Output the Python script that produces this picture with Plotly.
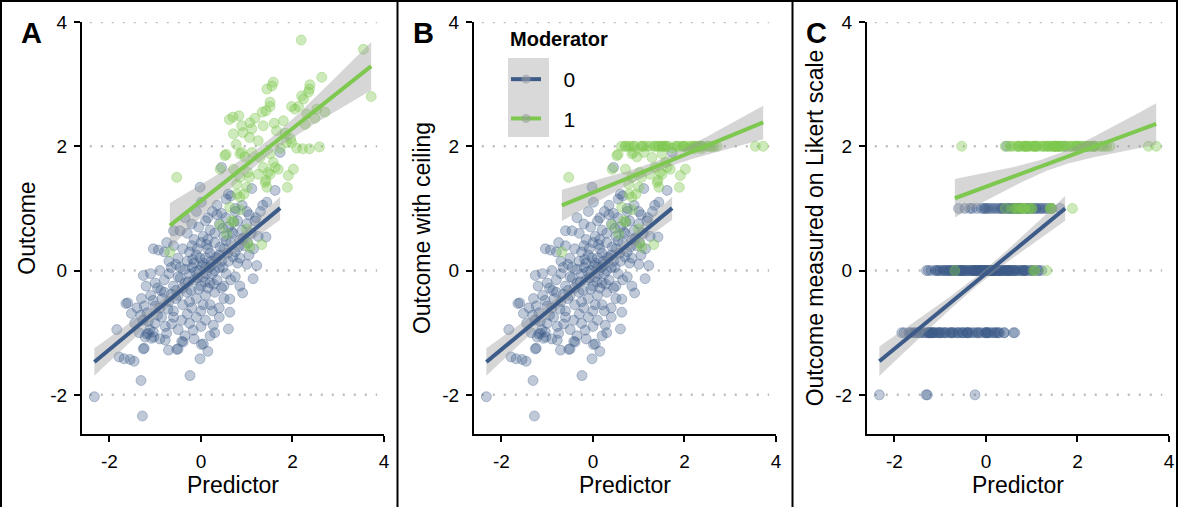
import numpy as np
import plotly.graph_objects as go

# ---------------- data ----------------
blue_predictor = [
    -2.33, -1.28, -1.31, -0.24, -1.79, -1.68, -1.55, -1.46, -1.84, -1.64,
    -1.60, -1.52, -1.24, -1.22, -1.15, -1.08, -1.24, -1.04, -0.71, -0.53,
    -0.75, -1.00, -1.15, 0.01, -0.02, 0.15, -0.42, -0.35, -0.17, -0.64,
    -0.86, -1.26, -1.19, -1.03, -1.26, -1.04, -0.93, -0.75, -0.60, -0.46,
    -0.02, 0.01, 0.45, 1.62, 1.44, 1.42, 1.73, 1.22, 1.14, 0.91,
    0.63, 0.63, 0.60, 0.27, 0.20, 0.05, -0.50, -0.39, 0.60, 1.11,
    0.35, 0.55, 0.75, 0.25, 0.90, 1.00, 0.65, -0.10, 0.15, 0.45,
    -0.30, -0.20, -0.05, 0.05, 0.10, 0.20, 0.30, 0.40, 0.50, 0.60,
    0.70, 0.80, 0.90, 1.00, 1.10, 1.20, 1.30, 0.55, -0.15, 0.35,
    0.85, 1.05, 0.15, -0.35, 0.75, -0.80, -0.60, -0.50, -0.40, -0.30,
    -0.20, -0.10, 0.00, 0.10, 0.15, 0.25, 0.30, 0.40, 0.50, 0.60,
    0.65, 0.75, 0.85, 0.95, 1.05, 1.15, -0.55, -0.25, 0.05, 0.35,
    0.55, 0.80, 0.45, -0.70, -0.15, 0.20, 0.70, 1.00, -1.10, -1.00,
    -0.90, -0.80, -0.70, -0.60, -0.50, -0.45, -0.35, -0.25, -0.15, -0.05,
    0.00, 0.05, 0.10, 0.20, 0.25, 0.35, 0.40, 0.50, 0.55, 0.65,
    0.75, 0.85, -0.05, -0.20, 0.15, 0.30, -0.40, -0.65, 0.45, -1.20,
    -0.95, -1.30, -1.10, -0.90, -0.80, -0.70, -0.60, -0.50, -0.40, -0.30,
    -0.20, -0.10, 0.00, 0.10, 0.20, 0.30, 0.40, 0.50, -0.85, -0.55,
    -0.25, 0.05, 0.25, -1.40, -1.26, -1.00, -0.50, -0.42, -0.10, 0.00,
    0.10, 0.40, -0.25, -0.60, -1.12, -0.30, -0.78, 0.30, -0.90, -0.15,
    -0.12, 0.02, -0.08, 0.12, -0.28, 0.22, -0.18, 0.08, -0.35, 0.32,
    -0.02, 0.18, -0.22, 0.42, -0.45, 0.28, -0.08, 0.48, -0.55, 0.12,
    0.68, 0.92, 1.18, 0.82, 1.35, 0.58, 1.02, 0.72, 1.25, 0.48,
    -1.45, -1.35, -1.18, -0.95, -0.72, -0.88, -0.65, -1.05, -0.78, -1.32,
]
blue_outcome = [
    -2.03, -2.34, -1.77, -1.69, -1.39, -1.42, -1.43, -1.46, -0.95, -0.53,
    -0.52, -0.69, -0.57, -1.07, -1.01, -1.09, -1.25, -0.99, -1.28, -1.27,
    -1.01, -0.57, -0.82, -1.19, -1.42, -1.30, -1.14, -1.05, -0.96, -0.86,
    -0.75, -0.08, -1.02, -1.07, -1.26, 0.35, 0.33, 0.45, 0.64, 0.64,
    1.34, 1.10, 1.66, 1.29, 1.10, 0.54, 1.90, 0.08, -0.13, -0.36,
    -0.46, -0.67, -0.94, -0.88, -1.05, -1.18, -1.26, -1.15, 1.23, 1.32,
    1.05, 1.15, 1.00, 0.95, 1.05, 0.95, 1.20, 0.95, 0.85, 0.92,
    0.60, 0.75, 0.70, 0.55, 0.80, 0.65, 0.60, 0.75, 0.55, 0.70,
    0.60, 0.80, 0.65, 0.75, 0.60, 0.85, 0.95, 0.85, 0.50, 0.90,
    0.50, 0.90, 0.50, 0.85, 0.95, 0.30, 0.40, 0.20, 0.35, 0.15,
    0.40, 0.25, 0.45, 0.20, 0.35, 0.10, 0.45, 0.25, 0.35, 0.15,
    0.45, 0.30, 0.20, 0.40, 0.25, 0.35, 0.10, 0.30, 0.12, 0.20,
    0.48, 0.12, 0.15, 0.15, 0.12, 0.28, 0.22, 0.10, -0.05, -0.20,
    0.00, -0.15, -0.05, -0.25, -0.10, 0.05, -0.20, -0.05, -0.15, 0.00,
    -0.25, -0.10, 0.05, -0.20, -0.05, -0.15, 0.05, -0.25, -0.05, -0.15,
    -0.10, -0.25, -0.30, 0.05, -0.28, 0.00, -0.28, 0.05, -0.28, -0.25,
    -0.28, -0.45, -0.40, -0.60, -0.35, -0.50, -0.65, -0.40, -0.55, -0.35,
    -0.60, -0.45, -0.65, -0.40, -0.55, -0.35, -0.60, -0.45, -0.45, -0.32,
    -0.50, -0.55, -0.65, -0.60, -0.80, -0.85, -0.95, -0.80, -0.75, -0.90,
    -0.80, -0.75, -0.85, -0.75, -0.95, -0.70, -0.90, -1.00, -1.10, -1.10,
    -0.02, 0.08, -0.12, -0.05, -0.18, 0.15, 0.18, -0.18, 0.02, 0.22,
    0.20, 0.05, -0.32, 0.38, -0.12, -0.22, 0.35, 0.05, -0.45, 0.42,
    0.62, 0.52, 0.80, 0.38, 1.05, 0.28, 0.45, 0.78, 0.55, 0.68,
    -0.85, -1.00, -0.68, -0.72, -0.62, -0.32, -0.38, -0.48, -1.12, -0.72,
]
green_predictor = [
    2.19, 3.55, 3.72, 2.64, 2.38, 2.37, 2.35, 2.24, 2.20, 2.13,
    2.05, 1.98, 2.53, 2.71, 2.49, 2.31, 1.58, 1.55, 1.44, 1.51,
    1.51, 1.34, 1.42, 0.62, 0.83, 0.89, 1.07, 1.11, 0.71, 0.92,
    1.06, 1.25, 1.36, 1.60, 1.80, 1.65, 1.84, 1.96, 1.98, 2.09,
    2.22, 2.37, 2.59, 1.73, 1.87, 0.77, 0.52, 0.85, 0.96, 1.11,
    1.29, 1.51, 1.36, 1.58, 1.62, 1.69, 1.51, 1.25, 1.06, 1.42,
    1.44, 1.91, 2.02, 1.89, 0.71, 0.85, 0.78, 0.94, -0.53, -0.68,
    0.55, 0.89, 0.42, 0.79, 1.02, 1.00, 0.67, 0.56, 1.03, 1.33,
    1.00, 0.85, 0.42, 1.40, 1.47, 0.85, 1.07, 0.71, 0.63, 0.70,
    1.18, 2.28,
]
green_outcome = [
    3.71, 3.56, 2.80, 3.11, 2.99, 2.92, 2.87, 2.76, 2.81, 2.64,
    2.60, 2.64, 2.60, 2.55, 2.45, 2.52, 3.03, 2.97, 2.92, 2.71,
    2.64, 2.55, 2.57, 2.43, 2.49, 2.33, 2.38, 2.28, 2.20, 2.22,
    2.14, 2.09, 2.33, 2.37, 2.41, 2.25, 2.21, 2.12, 2.06, 1.97,
    1.96, 1.96, 1.99, 1.97, 2.06, 2.03, 1.85, 1.88, 1.83, 1.90,
    1.82, 1.88, 1.66, 1.74, 1.66, 1.63, 1.55, 1.55, 1.50, 1.45,
    1.34, 1.53, 1.63, 1.34, 1.63, 1.50, 1.39, 1.23, 1.50, 0.30,
    1.87, 1.90, 1.63, 1.23, 1.58, 1.34, 0.80, 0.59, 0.43, 0.42,
    0.67, 0.98, 0.73, 1.42, 1.58, 1.18, 0.37, 0.78, 1.02, 2.47,
    2.45, 2.35,
]

moderator_title = "Moderator"
moderator_levels = ["0", "1"]
axis_ticks = [-2, 0, 2, 4]
axis_tick_text = ["-2", "0", "2", "4"]
panel_letters = ["A", "B", "C"]
y_titles = ["Outcome", "Outcome with ceiling", "Outcome measured on Likert scale"]
x_title = "Predictor"
ceiling_value = 2
likert_min, likert_max = -2, 2

# ---------------- styles ----------------
FONT = "Liberation Sans, Arial, Helvetica, sans-serif"
BLUE = "#3D5B88"
GREEN = "#7EC850"
BLUE_PT = "rgba(61,91,136,0.33)"
GREEN_PT = "rgba(126,200,80,0.38)"
BAND = "rgba(153,153,153,0.40)"
W, H = 1178, 507


def identity(v):
    return np.asarray(v, float)


def ceiling(v):
    return np.minimum(np.asarray(v, float), ceiling_value)


def likert(v):
    return np.clip(np.round(np.asarray(v, float)), likert_min, likert_max)


def lm_band(x, y, n_grid=80):
    x = np.asarray(x, float)
    y = np.asarray(y, float)
    n = len(x)
    xm, ym = x.mean(), y.mean()
    sxx = ((x - xm) ** 2).sum()
    slope = ((x - xm) * (y - ym)).sum() / sxx
    intercept = ym - slope * xm
    resid = y - (intercept + slope * x)
    s = np.sqrt((resid ** 2).sum() / (n - 2))
    grid = np.linspace(x.min(), x.max(), n_grid)
    fit = intercept + slope * grid
    se = s * np.sqrt(1.0 / n + (grid - xm) ** 2 / sxx)
    t = 1.96 + 2.4 / (n - 2)
    return grid, fit, fit - t * se, fit + t * se


transforms = [identity, ceiling, likert]
# pixel positions of the panels (left, right) and of the plot area (top, bottom)
panel_px = [(82, 384), (474, 776), (867, 1169)]
top_px, bottom_px = 22, 434

fig = go.Figure()
layout_axes = {}
shapes = []
annotations = []

for i, tf in enumerate(transforms):
    sfx = "" if i == 0 else str(i + 1)
    xa, ya = "x" + sfx, "y" + sfx
    by = tf(blue_outcome)
    gy = tf(green_outcome)

    fig.add_trace(go.Scatter(
        x=blue_predictor, y=by, mode="markers", xaxis=xa, yaxis=ya,
        marker=dict(size=10, color=BLUE_PT, line=dict(color=BLUE_PT, width=1)),
        showlegend=False, hoverinfo="skip", cliponaxis=False))
    fig.add_trace(go.Scatter(
        x=green_predictor, y=gy, mode="markers", xaxis=xa, yaxis=ya,
        marker=dict(size=10, color=GREEN_PT, line=dict(color=GREEN_PT, width=1)),
        showlegend=False, hoverinfo="skip", cliponaxis=False))

    for px_, py_, col in [(blue_predictor, by, BLUE), (green_predictor, gy, GREEN)]:
        g, f, lo, hi = lm_band(px_, py_)
        fig.add_trace(go.Scatter(
            x=np.concatenate([g, g[::-1]]), y=np.concatenate([hi, lo[::-1]]),
            fill="toself", fillcolor=BAND, line=dict(width=0), mode="lines",
            xaxis=xa, yaxis=ya, showlegend=False, hoverinfo="skip"))
        fig.add_trace(go.Scatter(
            x=g, y=f, mode="lines", line=dict(color=col, width=4),
            xaxis=xa, yaxis=ya, showlegend=False, hoverinfo="skip"))

    l, r = panel_px[i]
    common = dict(
        showline=True, linecolor="black", linewidth=2, ticks="outside",
        ticklen=6, tickwidth=2, tickcolor="black", showgrid=False,
        zeroline=False, tickvals=axis_ticks, ticktext=axis_tick_text,
        tickfont=dict(family=FONT, size=19, color="black"),
        ticklabelstandoff=3, automargin=False,
    )
    layout_axes["xaxis" + sfx] = dict(
        common, domain=[l / W, r / W], range=[-2.6, 4.0], anchor=ya,
        title=dict(text=x_title, font=dict(family=FONT, size=23, color="black"),
                   standoff=2))
    layout_axes["yaxis" + sfx] = dict(
        common, domain=[(H - bottom_px) / H, (H - top_px) / H],
        range=[-2.63, 4.0], anchor=xa,
        title=dict(text=y_titles[i], font=dict(family=FONT, size=23, color="black"),
                   standoff=8 if i == 0 else 5))

    # dotted horizontal guide lines
    for yv in axis_ticks:
        shapes.append(dict(type="line", xref=xa, yref=ya, x0=-2.43, x1=3.85,
                           y0=yv, y1=yv, layer="below",
                           line=dict(color="#BDBDBD", width=2.5, dash="2px,9px")))

    annotations.append(dict(
        text="<b>%s</b>" % panel_letters[i], xref="paper", yref="paper",
        x=(l - 51) / W, y=(H - 33) / H, xanchor="center", yanchor="middle",
        showarrow=False, font=dict(family=FONT, size=29, color="black")))

# legend entries
NBSP = "\u00a0"
for lvl, col, ptc in zip(moderator_levels, [BLUE, GREEN],
                         ["rgba(150,155,165,0.6)", "rgba(150,160,150,0.6)"]):
    fig.add_trace(go.Scatter(
        x=[None], y=[None], mode="lines+markers", name=NBSP * 3 + lvl,
        xaxis="x2", yaxis="y2",
        line=dict(color=col, width=4), marker=dict(size=9, color=ptc),
        legendgroup="m" + lvl, showlegend=True))

# legend title
annotations.append(dict(
    text="<b>%s</b>" % moderator_title, xref="paper", yref="paper",
    x=508 / W, y=(H - 39) / H, xanchor="left", yanchor="middle",
    showarrow=False, font=dict(family=FONT, size=20, color="black")))

# legend key background
shapes.append(dict(type="rect", xref="paper", yref="paper",
                   x0=508 / W, x1=549 / W, y0=(H - 137) / H, y1=(H - 58) / H,
                   fillcolor="#D9D9D9", line=dict(width=0), layer="above"))

# frame and separators
for xpx in [397.5, 792.5]:
    shapes.append(dict(type="line", xref="paper", yref="paper",
                       x0=xpx / W, x1=xpx / W, y0=0, y1=1,
                       line=dict(color="black", width=2)))
shapes.append(dict(type="line", xref="paper", yref="paper", x0=0, x1=1,
                   y0=(H - 1) / H, y1=(H - 1) / H, line=dict(color="black", width=2)))
shapes.append(dict(type="line", xref="paper", yref="paper", x0=1 / W, x1=1 / W,
                   y0=0, y1=1, line=dict(color="black", width=2)))
shapes.append(dict(type="line", xref="paper", yref="paper", x0=(W - 1) / W, x1=(W - 1) / W,
                   y0=0, y1=1, line=dict(color="black", width=2)))

fig.update_layout(
    width=W, height=H, margin=dict(l=0, r=0, t=0, b=0, autoexpand=False),
    paper_bgcolor="white", plot_bgcolor="white",
    font=dict(family=FONT, color="black"),
    shapes=shapes, annotations=annotations,
    legend=dict(
        x=506 / W, y=(H - 59) / H, xanchor="left", yanchor="top",
        bgcolor="rgba(0,0,0,0)",
        font=dict(family=FONT, size=21, color="black"),
        tracegroupgap=9, itemwidth=30,
    ),
    **layout_axes,
)

fig.write_html(
    "out.html",
    config={"displayModeBar": False},
    post_script="document.body.style.margin='0';document.body.style.overflow='hidden';",
)
